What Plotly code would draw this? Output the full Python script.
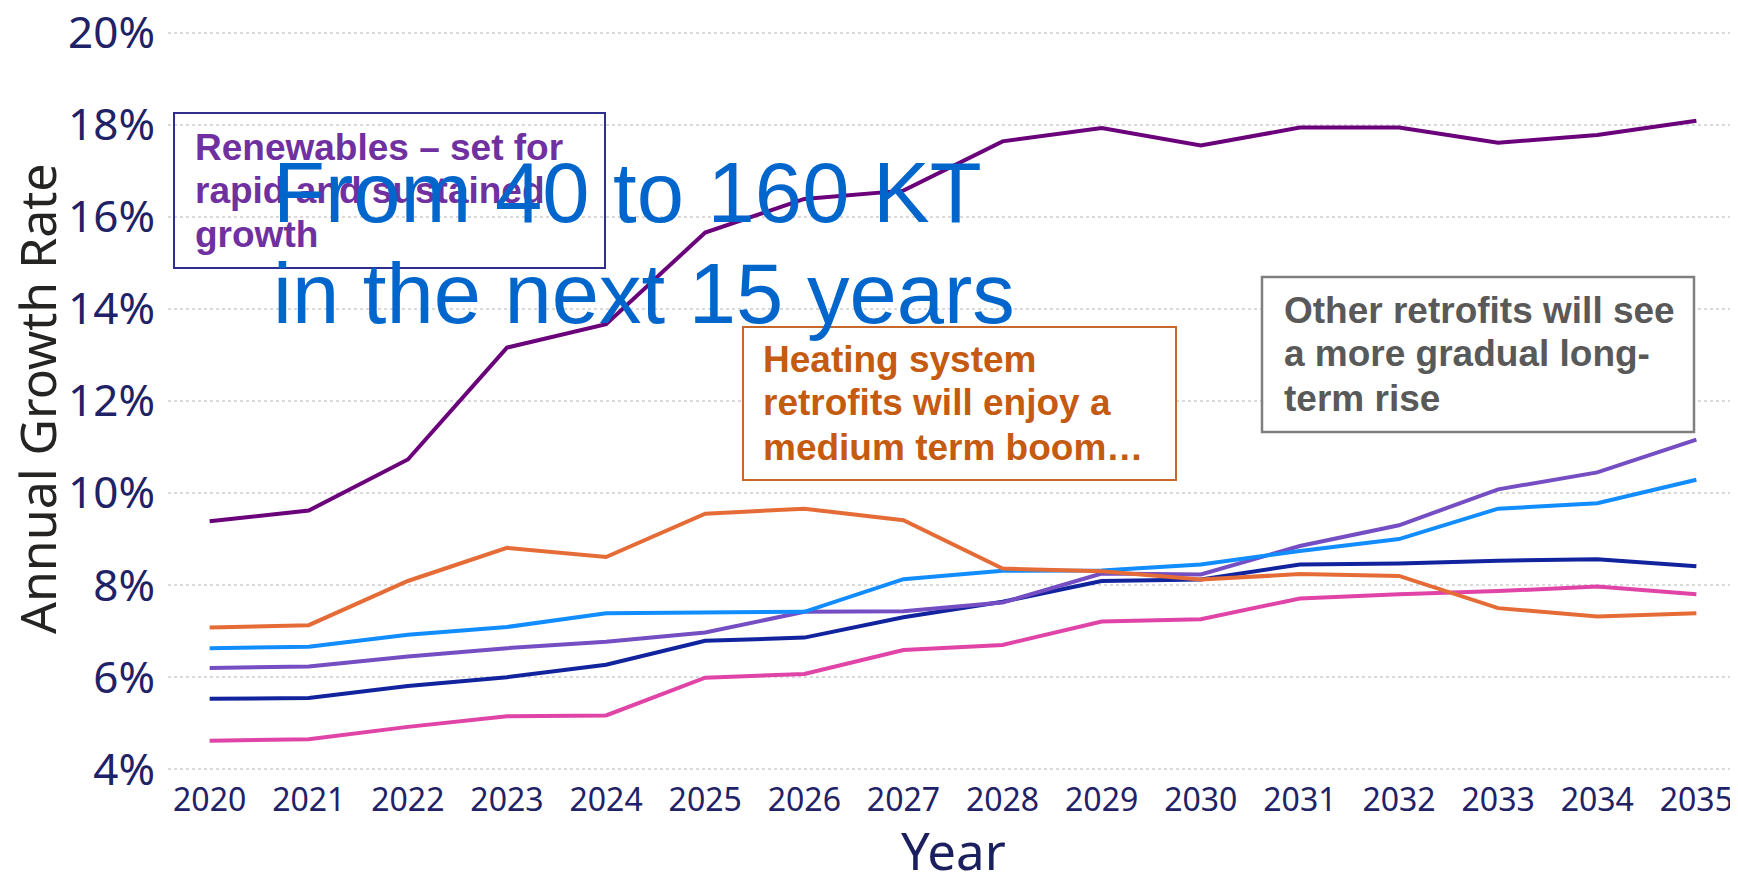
import plotly.graph_objects as go

years = list(range(2020, 2036))

renewables = [9.39, 9.62, 10.73, 13.16, 13.67, 15.66, 16.39, 16.57, 17.64, 17.93, 17.55, 17.94, 17.94, 17.61, 17.78, 18.09]
heating = [7.08, 7.13, 8.09, 8.81, 8.61, 9.55, 9.66, 9.41, 8.36, 8.30, 8.12, 8.24, 8.20, 7.50, 7.32, 7.39]
light_blue = [6.63, 6.66, 6.92, 7.09, 7.39, 7.41, 7.42, 8.13, 8.31, 8.32, 8.45, 8.74, 9.00, 9.66, 9.78, 10.29]
violet = [6.20, 6.23, 6.45, 6.63, 6.77, 6.97, 7.42, 7.43, 7.62, 8.25, 8.23, 8.85, 9.30, 10.08, 10.45, 11.16]
dark_blue = [5.53, 5.55, 5.81, 6.00, 6.27, 6.79, 6.86, 7.30, 7.64, 8.09, 8.12, 8.45, 8.47, 8.53, 8.56, 8.41]
pink = [4.62, 4.65, 4.92, 5.15, 5.17, 5.99, 6.07, 6.59, 6.70, 7.21, 7.26, 7.71, 7.80, 7.87, 7.97, 7.80]

series = [
    ("Pink", pink, "#E044A7"),
    ("Dark blue", dark_blue, "#12239E"),
    ("Violet", violet, "#744EC2"),
    ("Light blue", light_blue, "#118DFF"),
    ("Heating", heating, "#E66C37"),
    ("Renewables", renewables, "#6B007B"),
]

y_tick_vals = [4, 6, 8, 10, 12, 14, 16, 18, 20]
y_tick_text = ["4%", "6%", "8%", "10%", "12%", "14%", "16%", "18%", "20%"]

box1_lines = ["Renewables \u2013 set for", "rapid and sustained", "growth"]
box2_lines = ["Heating system", "retrofits will enjoy a", "medium term boom\u2026"]
box3_lines = ["Other retrofits will see", "a more gradual long-", "term rise"]
big_lines = ["From 40 to 160 KT", "in the next 15 years"]

# screen geometry (pixels); the page body adds an 8px offset to the figure
W_IMG, H_IMG = 1738, 881
OFF = 8
L, R, T, B = 168, 1738, 30, 772
PW, PH = R - L, B - T
FIG_W, FIG_H = W_IMG - OFF, H_IMG - OFF


def px(xp):
    return (xp - L) / PW


def py(yp):
    return (B - yp) / PH


fig = go.Figure()
for name, vals, col in series:
    fig.add_trace(go.Scatter(x=years, y=vals, mode="lines", name=name,
                             line=dict(color=col, width=4), showlegend=False))

fig.update_layout(
    template="none",
    width=FIG_W, height=FIG_H,
    margin=dict(l=L - OFF, r=W_IMG - R, t=T - OFF, b=H_IMG - B, pad=0, autoexpand=False),
    plot_bgcolor="white", paper_bgcolor="white",
    showlegend=False,
)
fig.update_xaxes(
    automargin=False,
    range=[2019.58, 2035.42], tickmode="array", tickvals=years,
    ticktext=[str(y) for y in years],
    showgrid=False, zeroline=False, showline=False, ticks="",
    tickfont=dict(family="Noto Sans", size=32, color="#1F2266"),
    ticklabelstandoff=6, ticklabeloverflow="allow",
)
fig.update_yaxes(
    automargin=False,
    range=[3.94, 20.06], tickmode="array", tickvals=y_tick_vals, ticktext=y_tick_text,
    showgrid=True, gridcolor="#D9D9D9", gridwidth=1.5, griddash="dot",
    zeroline=False, showline=False, ticks="",
    tickfont=dict(family="Noto Sans", size=44, color="#1F2266"),
    ticklabelstandoff=12, ticklabeloverflow="allow",
)

shapes = [
    dict(type="rect", xref="paper", yref="paper", x0=px(174), x1=px(605), y0=py(268), y1=py(113),
         line=dict(color="#2E2E8C", width=2), fillcolor="rgba(0,0,0,0)", layer="above"),
    dict(type="rect", xref="paper", yref="paper", x0=px(743), x1=px(1176), y0=py(480), y1=py(327),
         line=dict(color="#C8672A", width=2), fillcolor="white", layer="above"),
    dict(type="rect", xref="paper", yref="paper", x0=px(1262), x1=px(1694), y0=py(432), y1=py(277),
         line=dict(color="#808080", width=2.5), fillcolor="white", layer="above"),
]
fig.update_layout(shapes=shapes)

annotations = []


def add_lines(lines, x_left, centers, color, size, weight, family):
    for txt, yc in zip(lines, centers):
        annotations.append(dict(
            text=txt, xref="paper", yref="paper", x=px(x_left), y=py(yc),
            xanchor="left", yanchor="middle", showarrow=False, borderpad=0,
            font=dict(family=family, size=size, color=color, weight=weight),
        ))


add_lines(box1_lines, 194, [147, 191, 234], "#7030A0", 37, 700, "Liberation Sans")
add_lines(box2_lines, 762, [359, 403, 448], "#C55A11", 37, 700, "Liberation Sans")
add_lines(box3_lines, 1283, [310, 354, 398], "#595959", 37, 700, "Liberation Sans")
add_lines(big_lines, 272, [192, 293], "#0066CC", 85, 400, "Liberation Sans")

annotations.append(dict(
    text="Annual Growth Rate", xref="paper", yref="paper", x=px(37), y=py(399),
    xanchor="center", yanchor="middle", textangle=-90, showarrow=False,
    font=dict(family="Noto Sans", size=50, color="#252423"),
))
annotations.append(dict(
    text="Year", xref="paper", yref="paper", x=px(953), y=py(850),
    xanchor="center", yanchor="middle", showarrow=False,
    font=dict(family="Noto Sans", size=51, color="#1B1F5E"),
))
fig.update_layout(annotations=annotations)

fig.write_html("out.html")
